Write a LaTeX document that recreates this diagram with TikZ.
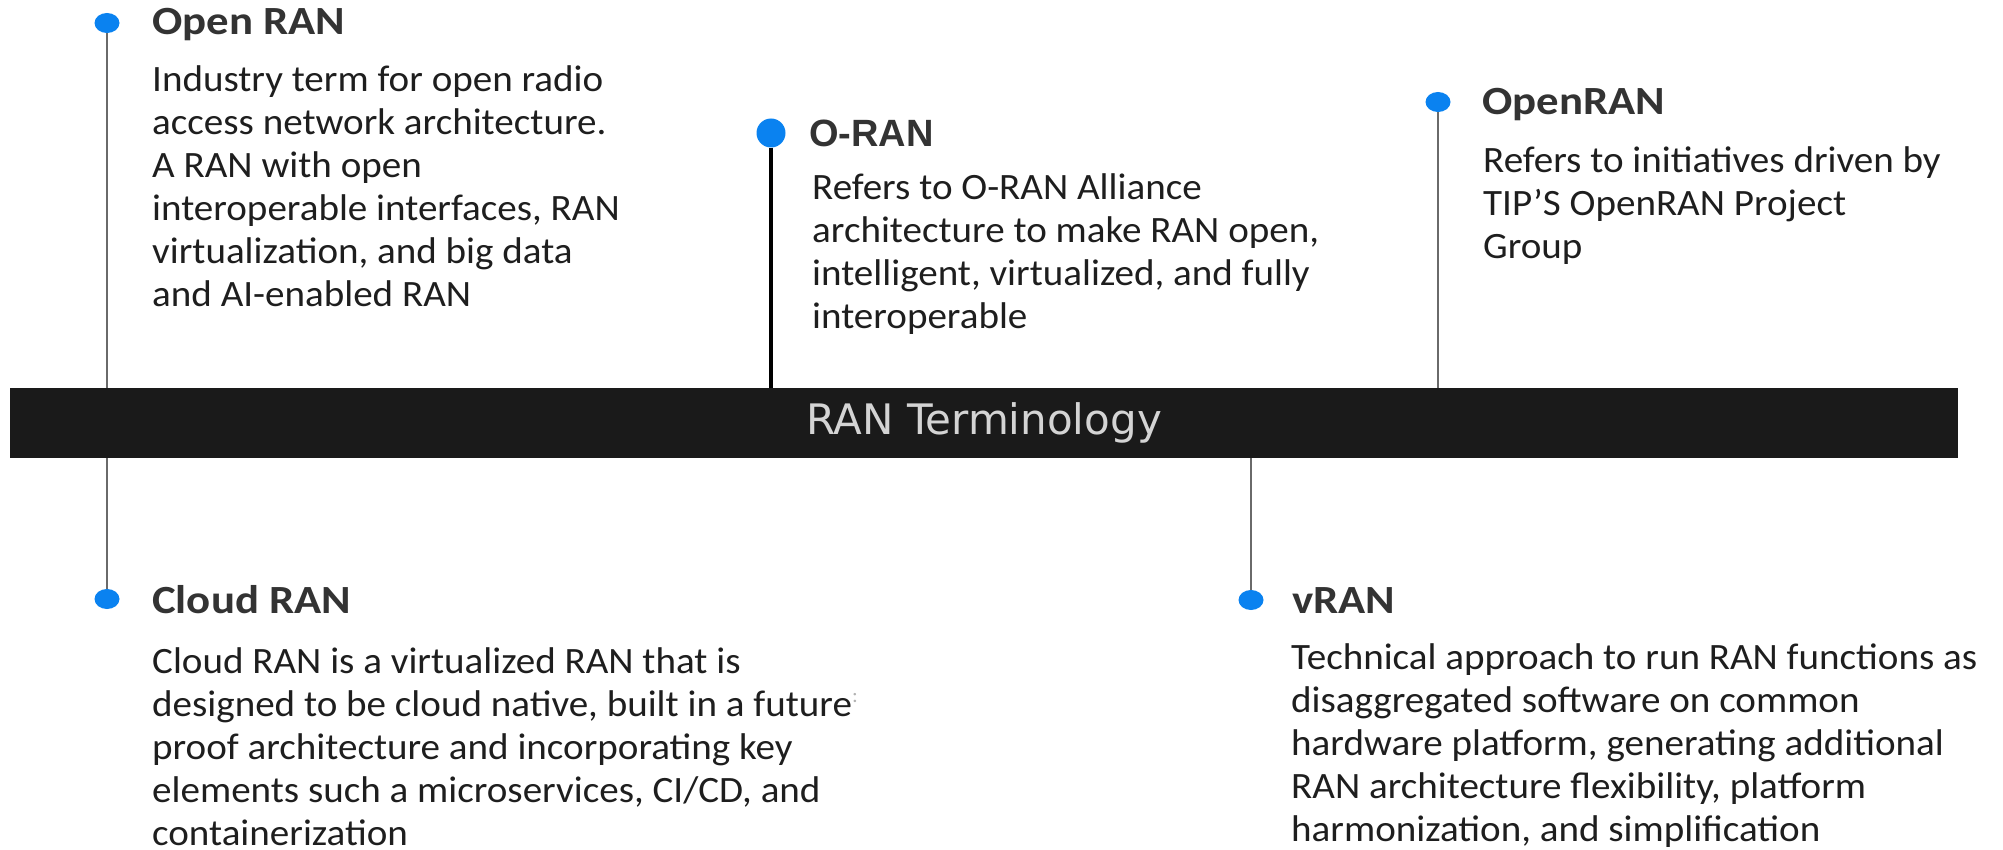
\documentclass[tikz,border=0pt]{standalone}
\usepackage{fontspec}
\setmainfont{Carlito}
\newfontfamily\bodyfont[FakeStretch=1.05]{Carlito}
\newfontfamily\headfont[FakeStretch=1.12]{Carlito}
\newfontfamily\oranfont{Liberation Sans}
\newfontfamily\barfont{DejaVu Sans}
\usetikzlibrary{shapes.geometric}

\definecolor{dotblue}{RGB}{10,130,240}
\definecolor{titlegray}{HTML}{333333}
\definecolor{bodyblack}{HTML}{1E1E1E}
\definecolor{stemgray}{HTML}{6A6A6A}
\definecolor{barblack}{HTML}{1A1A1A}
\definecolor{bartext}{HTML}{D4D4D4}

% stacked lines, baseline of the whole block = baseline of its first line
\newcommand{\textlines}[1]{\begin{tabular}[t]{@{}l@{}}#1\end{tabular}}

\begin{document}
\begin{tikzpicture}[x=1pt, y=-1pt,
  markdot/.style={ellipse, fill=dotblue, inner sep=0pt, minimum width=25pt, minimum height=20pt},
  bigdot/.style={circle, fill=dotblue, inner sep=0pt, minimum size=29pt},
  termtitle/.style={anchor=base west, inner sep=0pt, text=titlegray,
    font=\headfont\bfseries\fontsize{40}{48}\selectfont},
  termbody/.style={anchor=base west, inner sep=0pt, text=bodyblack,
    font=\bodyfont\fontsize{37.2}{43}\selectfont},
  stemline/.style={draw=stemgray, line width=2.5pt},
  darkstem/.style={draw=black, line width=3.5pt},
  barbox/.style={rectangle, fill=barblack, inner sep=0pt,
    minimum width=1948pt, minimum height=70pt, text=bartext,
    font=\barfont\fontsize{42}{50}\selectfont}
]
\useasboundingbox (0,0) rectangle (2003,850);

% central band
\node[barbox] (bar) at (984,423) {RAN Terminology};

% markers
\node[markdot] (d1) at (107,23) {};
\node[bigdot]  (d2) at (771,133) {};
\node[markdot] (d3) at (1438,102) {};
\node[markdot] (d4) at (107,599) {};
\node[markdot] (d5) at (1251,600) {};

% stems joining markers to the band
\draw[stemline] (d1.south) -- (d1.south |- bar.north);
\draw[darkstem] (d2.south) -- (d2.south |- bar.north);
\draw[stemline] (d3.south) -- (d3.south |- bar.north);
\draw[stemline] (d4.north) -- (d4.north |- bar.south);
\draw[stemline] (d5.north) -- (d5.north |- bar.south);

% Open RAN
\node[termtitle] (t1) at (152,35) {Open RAN};
\node[termbody] (b1) at (152,92) {\textlines{%
Industry term for open radio\\
access network architecture.\\
A RAN with open\\
interoperable interfaces, RAN\\
virtualization, and big data\\
and AI-enabled RAN}};

% O-RAN
\node[anchor=base west, inner sep=0pt, text=titlegray,
  font=\oranfont\bfseries\fontsize{38}{46}\selectfont] (t2) at (809,147) {O-RAN};
\node[termbody] (b2) at (812,200) {\textlines{%
Refers to O-RAN Alliance\\
architecture to make RAN open,\\
intelligent, virtualized, and fully\\
interoperable}};

% OpenRAN
\node[termtitle] (t3) at (1482,115) {OpenRAN};
\node[termbody] (b3) at (1483,173) {\textlines{%
Refers to initiatives driven by\\
TIP’S OpenRAN Project\\
Group}};

% Cloud RAN (last row trimmed so the block ends at the glyphs)
\node[termtitle] (t4) at (152,613) {Cloud RAN};
\node[termbody] (b4) at (152,673) {\textlines{%
Cloud RAN is a virtualized RAN that is\\
designed to be cloud native, built in a future{\color{gray!60}\raisebox{0.35em}{\scalebox{0.55}{:}}}\\
proof architecture and incorporating key\\
elements such a microservices, CI/CD, and\\
containerization\\[-12pt]}};

% vRAN
\node[termtitle] (t5) at (1292,613) {vRAN};
\node[termbody] (b5) at (1291,669) {\textlines{%
Technical approach to run RAN functions as\\
disaggregated software on common\\
hardware platform, generating additional\\
RAN architecture flexibility, platform\\
harmonization, and simplification\\[-4pt]}};
\end{tikzpicture}
\end{document}
